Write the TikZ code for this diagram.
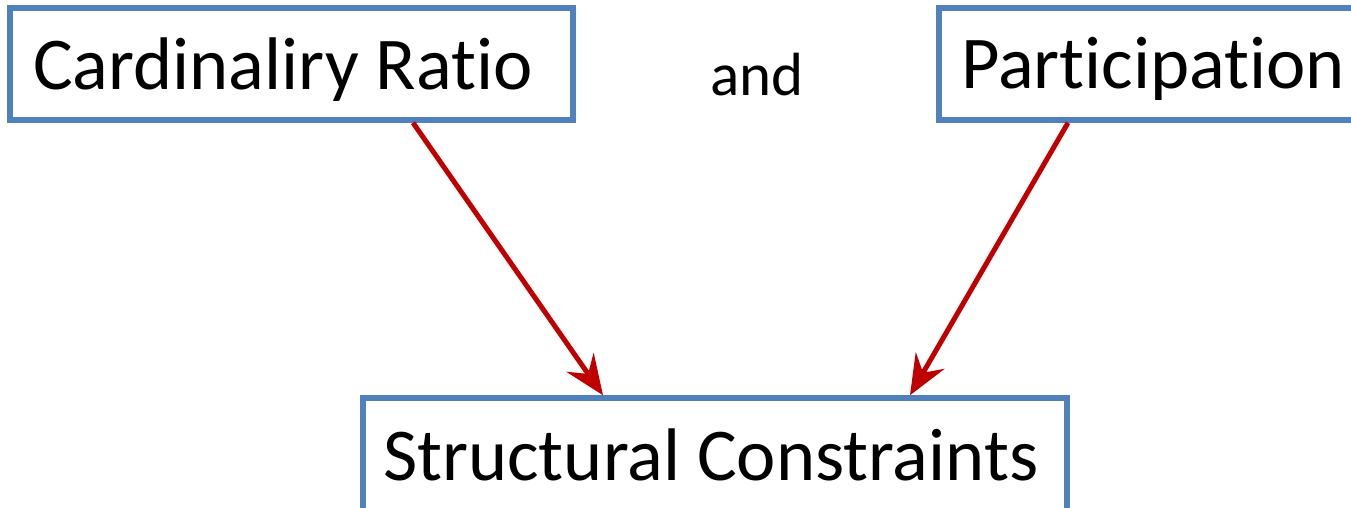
\documentclass[tikz,border=0pt]{standalone}
\usepackage{fontspec}
\setmainfont{Carlito}[Ligatures=CommonOff]
\usetikzlibrary{arrows.meta,calc}
\definecolor{boxblue}{RGB}{79,129,189}
\definecolor{arrred}{RGB}{192,0,0}
\tikzset{
  box/.style={draw=boxblue, line width=5.5pt, fill=white, inner sep=0pt, anchor=center},
  txt/.style={font=\fontsize{74.5}{80}\selectfont, inner sep=0pt, anchor=base west},
  arr/.style={draw=arrred, line width=5pt,
    -{Stealth[length=40pt, width=33pt, inset=14pt]}},
  lbl/.style={font=\fontsize{61}{66}\selectfont, inner sep=0pt}
}
\begin{document}
\begin{tikzpicture}[x=1pt,y=1pt]
\useasboundingbox (0,0) rectangle (1351,507);
\node[box, minimum width=563pt, minimum height=112pt] (b1) at (291.5,443) {};
\node[box, minimum width=416pt, minimum height=112pt] (b2) at (1147,443) {};
\node[box, minimum width=704pt, minimum height=114pt] (b3) at (715,52) {};
\node[txt] (t1) at (33,417) {Cardinaliry Ratio};
\node[txt] (t2) at (961,418) {Participation};
\node[txt] (t3) at (383,27) {Structural Constraints};
\node[lbl, anchor=base] (and) at (757,411) {and};
\draw[arr] ([xshift=121.5pt]b1.south) -- ([xshift=-112pt]b3.north);
\draw[arr] ([xshift=-79pt]b2.south) -- ([xshift=195pt]b3.north);
\end{tikzpicture}
\end{document}
